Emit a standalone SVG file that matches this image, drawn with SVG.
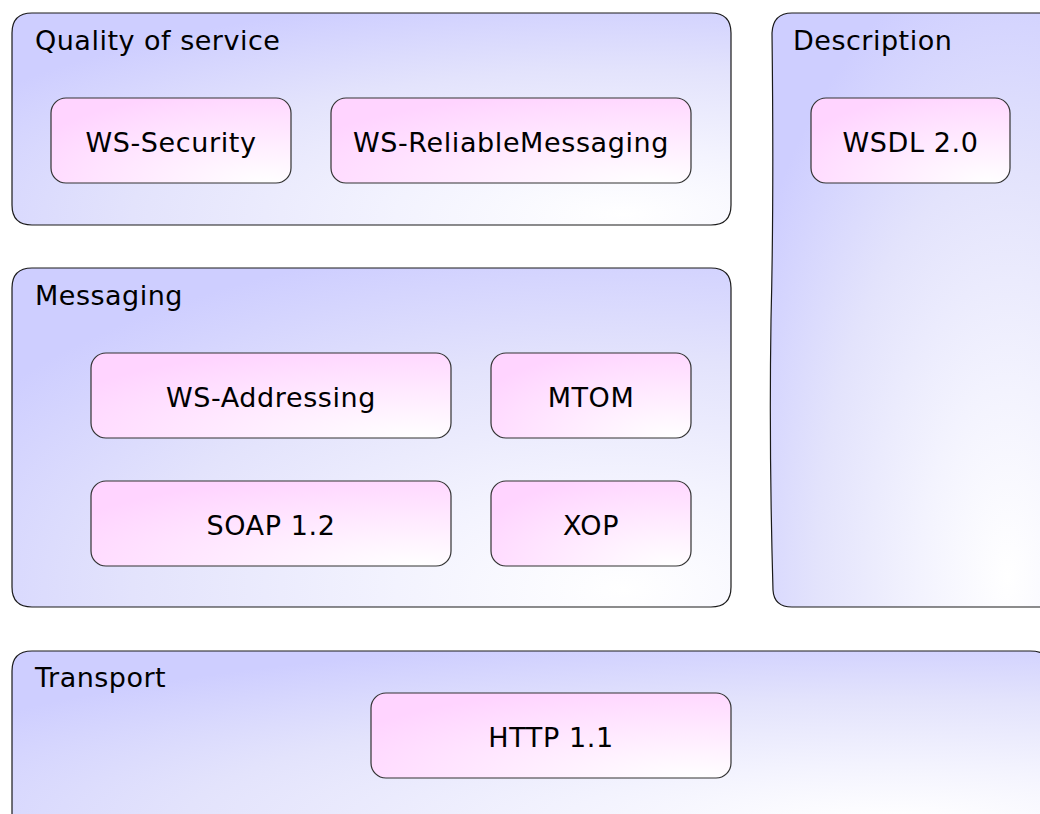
<svg xmlns="http://www.w3.org/2000/svg" width="1040" height="814" viewBox="0 0 1040 814">
<defs>
<radialGradient id="gOuter" cx="0.85" cy="0.95" r="1.05" fx="0.85" fy="0.95">
<stop offset="0" stop-color="#ffffff"/>
<stop offset="0.3" stop-color="#f3f3fe"/>
<stop offset="0.65" stop-color="#e3e3fc"/>
<stop offset="1" stop-color="#ceceff"/>
</radialGradient>
<radialGradient id="gInner" cx="0.9" cy="1" r="1.1" fx="0.9" fy="1">
<stop offset="0" stop-color="#ffffff"/>
<stop offset="0.4" stop-color="#ffeeff"/>
<stop offset="1" stop-color="#ffd4ff"/>
</radialGradient>
</defs>
<style>
.outer{fill:url(#gOuter);stroke:#1a1a1a;stroke-width:1.2}
.inner{fill:url(#gInner);stroke:#333333;stroke-width:1.2}
.lbl{font-family:"DejaVu Sans",Verdana,sans-serif;font-size:27px;letter-spacing:0.5px;fill:#000}
.nlbl{font-family:"DejaVu Sans",Verdana,sans-serif;font-size:27px;letter-spacing:0.6px;fill:#000;text-anchor:middle}
</style>
<g id="quality">
<path class="outer" d="M32,13 H711 Q731,13 731,33 V205 Q731,225 711,225 H32 Q12,225 12,205 V33 Q12,13 32,13 Z"/>
<text class="lbl" x="35" y="50">Quality of service</text>
</g>
<g id="description">
<path class="outer" d="M792,13 H1050 V607 H792 Q774,607 773,590 Q769,450 771,320 Q774,200 772,33 Q773,13 792,13 Z"/>
<text class="lbl" x="793" y="50">Description</text>
</g>
<g id="messaging">
<path class="outer" d="M32,268 H711 Q731,268 731,288 V587 Q731,607 711,607 H32 Q12,607 12,587 V288 Q12,268 32,268 Z"/>
<text class="lbl" x="35" y="305">Messaging</text>
</g>
<g id="transport">
<path class="outer" d="M32,651 H1030 Q1045,651 1050,660 V830 H12 V671 Q12,651 32,651 Z"/>
<text class="lbl" x="35" y="687">Transport</text>
</g>
<g id="ws-security">
<rect class="inner" x="51" y="98" width="240" height="85" rx="15"/>
<text class="nlbl" x="171" y="152">WS-Security</text>
</g>
<g id="ws-reliablemessaging">
<rect class="inner" x="331" y="98" width="360" height="85" rx="15"/>
<text class="nlbl" x="511" y="152">WS-ReliableMessaging</text>
</g>
<g id="wsdl">
<rect class="inner" x="811" y="98" width="199" height="85" rx="15"/>
<text class="nlbl" x="910.5" y="152">WSDL 2.0</text>
</g>
<g id="ws-addressing">
<rect class="inner" x="91" y="353" width="360" height="85" rx="15"/>
<text class="nlbl" x="271" y="407">WS-Addressing</text>
</g>
<g id="mtom">
<rect class="inner" x="491" y="353" width="200" height="85" rx="15"/>
<text class="nlbl" x="591" y="407">MTOM</text>
</g>
<g id="soap">
<rect class="inner" x="91" y="481" width="360" height="85" rx="15"/>
<text class="nlbl" x="271" y="535">SOAP 1.2</text>
</g>
<g id="xop">
<rect class="inner" x="491" y="481" width="200" height="85" rx="15"/>
<text class="nlbl" x="591" y="535">XOP</text>
</g>
<g id="http">
<rect class="inner" x="371" y="693" width="360" height="85" rx="15"/>
<text class="nlbl" x="551" y="747">HTTP 1.1</text>
</g>
<g id="connectors"/>
</svg>
